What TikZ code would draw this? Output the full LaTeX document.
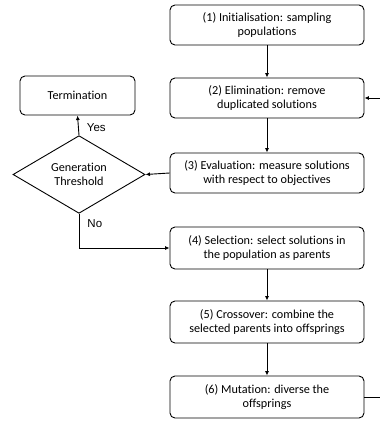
\documentclass[tikz,border=0pt]{standalone}
\usepackage{fontspec}
\setmainfont{Carlito}[Ligatures=NoCommon]
\newfontfamily\arialfont{Liberation Sans}
\usetikzlibrary{shapes.geometric,arrows.meta}
\begin{document}
\begin{tikzpicture}[x=1pt,y=-1pt,
  stepbox/.style={draw,line width=0.9pt,rounded corners=5pt,minimum width=194pt,minimum height=40pt,align=center,inner sep=0pt,font=\fontsize{12.2}{13.5}\selectfont},
  flow/.style={line width=0.9pt,-{Latex[length=4.5pt,width=4pt]}},
  lbl/.style={font=\arialfont\fontsize{11.5}{13}\selectfont,inner sep=0pt}]
\useasboundingbox (0,0) rectangle (380,424);
\node[stepbox] (s1) at (267,25) {(1) Initialisation: sampling\\populations};
\node[stepbox] (s2) at (267,98) {(2) Elimination: remove\\duplicated solutions};
\node[stepbox] (s3) at (267,173) {(3) Evaluation: measure solutions\\with respect to objectives};
\node[stepbox,minimum height=42pt] (s4) at (267,248) {(4) Selection: select solutions in\\the population as parents};
\node[stepbox,minimum height=42pt] (s5) at (267,322) {(5) Crossover: combine the\\selected parents into offsprings};
\node[stepbox,minimum height=42pt] (s6) at (267,397) {(6) Mutation: diverse the\\offsprings};
\node[stepbox,minimum width=115pt,minimum height=39pt] (term) at (77.5,95.5) {Termination};
\node[draw,diamond,line width=0.9pt,minimum width=132pt,minimum height=55pt,inner sep=0pt,align=center,font=\fontsize{12.2}{13.5}\selectfont] (gen) at (79,174.5) {Generation\\Threshold};
\coordinate (nocorner) at (gen.south |- s4.west);
\coordinate (fbr) at (384,0);
\draw[flow] (s1) -- (s2);
\draw[flow] (s2) -- (s3);
\draw[flow] (s4) -- (s5);
\draw[flow] (s5) -- (s6);
\draw[flow] (s3.west) -- (gen.east);
\draw[flow] (gen.north) -- node[lbl,right=8pt,pos=0.38] {Yes} (term.south);
\draw[flow] (gen.south) -- node[lbl,right=8pt,pos=0.3] {No} (nocorner) -- (s4.west);
\draw[flow] (s6.east) -- (fbr |- s6.east) -- (fbr |- s2.east) -- (s2.east);
\end{tikzpicture}
\end{document}
